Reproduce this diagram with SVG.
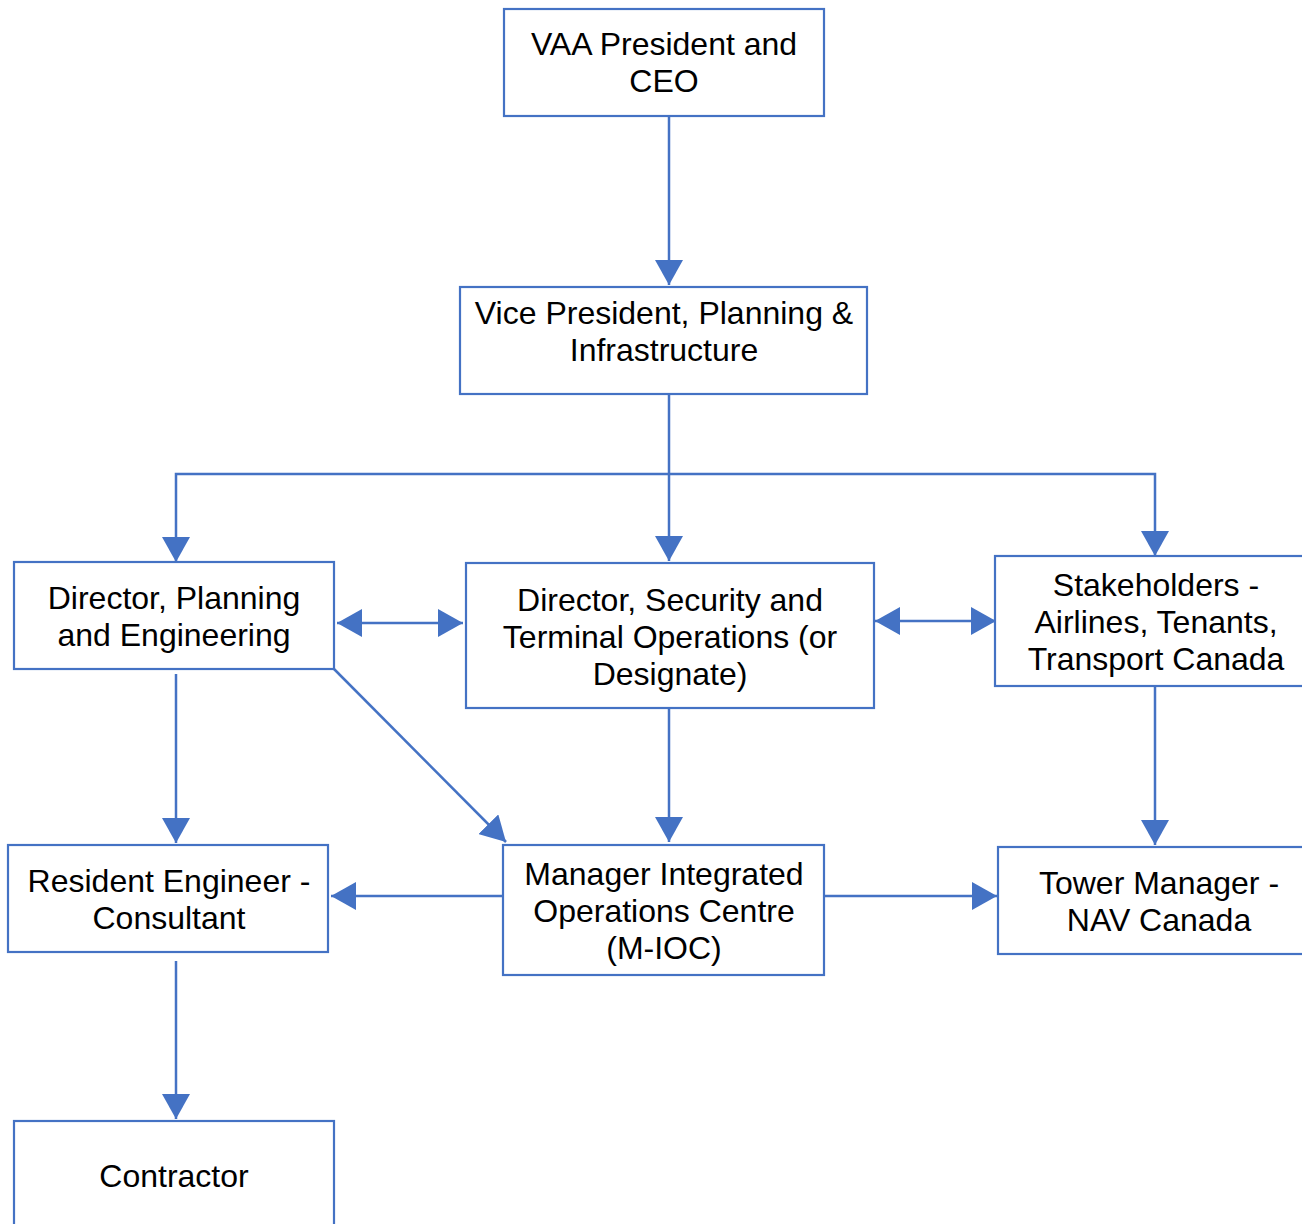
<svg xmlns="http://www.w3.org/2000/svg" width="1302" height="1224" viewBox="0 0 1302 1224">
<style>
.box{fill:#fff;stroke:#4472C4;stroke-width:2.2}
.t{font-family:"Liberation Sans",Arial,sans-serif;font-size:32px;fill:#000;text-anchor:middle}
.c{fill:none;stroke:#4472C4;stroke-width:2.5}
</style>
<defs>
<marker id="ah" markerUnits="userSpaceOnUse" markerWidth="26" markerHeight="28" refX="25" refY="14" orient="auto-start-reverse" viewBox="0 0 26 28">
<path d="M0,0 L25,14 L0,28 z" fill="#4472C4"/>
</marker>
</defs>
<rect width="1302" height="1224" fill="#fff"/>
<g id="connectors">
<path class="c" d="M669,116 V285" marker-end="url(#ah)"/>
<path class="c" d="M669,394 V561" marker-end="url(#ah)"/>
<path class="c" d="M669,474 H176 V562" marker-end="url(#ah)"/>
<path class="c" d="M669,474 H1155 V556" marker-end="url(#ah)"/>
<path class="c" d="M337,623 H463" marker-start="url(#ah)" marker-end="url(#ah)"/>
<path class="c" d="M875,621 H996" marker-start="url(#ah)" marker-end="url(#ah)"/>
<path class="c" d="M176,674 V843" marker-end="url(#ah)"/>
<path class="c" d="M334,669 L506,842" marker-end="url(#ah)"/>
<path class="c" d="M669,708 V842" marker-end="url(#ah)"/>
<path class="c" d="M1155,686 V845" marker-end="url(#ah)"/>
<path class="c" d="M503,896 H331" marker-end="url(#ah)"/>
<path class="c" d="M824,896 H997" marker-end="url(#ah)"/>
<path class="c" d="M176,961 V1119" marker-end="url(#ah)"/>
</g>
<g id="vaa"><rect class="box" x="504" y="9" width="320" height="107"/><text class="t" x="664" y="55">VAA President and</text><text class="t" x="664" y="92">CEO</text></g>
<g id="vp"><rect class="box" x="460" y="287" width="407" height="107"/><text class="t" x="664" y="324">Vice President, Planning &amp;</text><text class="t" x="664" y="361">Infrastructure</text></g>
<g id="dpe"><rect class="box" x="14" y="562" width="320" height="107"/><text class="t" x="174" y="609">Director, Planning</text><text class="t" x="174" y="646">and Engineering</text></g>
<g id="dsto"><rect class="box" x="466" y="563" width="408" height="145"/><text class="t" x="670" y="611">Director, Security and</text><text class="t" x="670" y="648">Terminal Operations (or</text><text class="t" x="670" y="685">Designate)</text></g>
<g id="stake"><rect class="box" x="995" y="556" width="320" height="130"/><text class="t" x="1156" y="596">Stakeholders -</text><text class="t" x="1156" y="633">Airlines, Tenants,</text><text class="t" x="1156" y="670">Transport Canada</text></g>
<g id="resident"><rect class="box" x="8" y="845" width="320" height="107"/><text class="t" x="169" y="892">Resident Engineer -</text><text class="t" x="169" y="929">Consultant</text></g>
<g id="mioc"><rect class="box" x="503" y="845" width="321" height="130"/><text class="t" x="664" y="885">Manager Integrated</text><text class="t" x="664" y="922">Operations Centre</text><text class="t" x="664" y="959">(M-IOC)</text></g>
<g id="tower"><rect class="box" x="998" y="847" width="320" height="107"/><text class="t" x="1159" y="894">Tower Manager -</text><text class="t" x="1159" y="931">NAV Canada</text></g>
<g id="contractor"><rect class="box" x="14" y="1121" width="320" height="120"/><text class="t" x="174" y="1187">Contractor</text></g>
</svg>
